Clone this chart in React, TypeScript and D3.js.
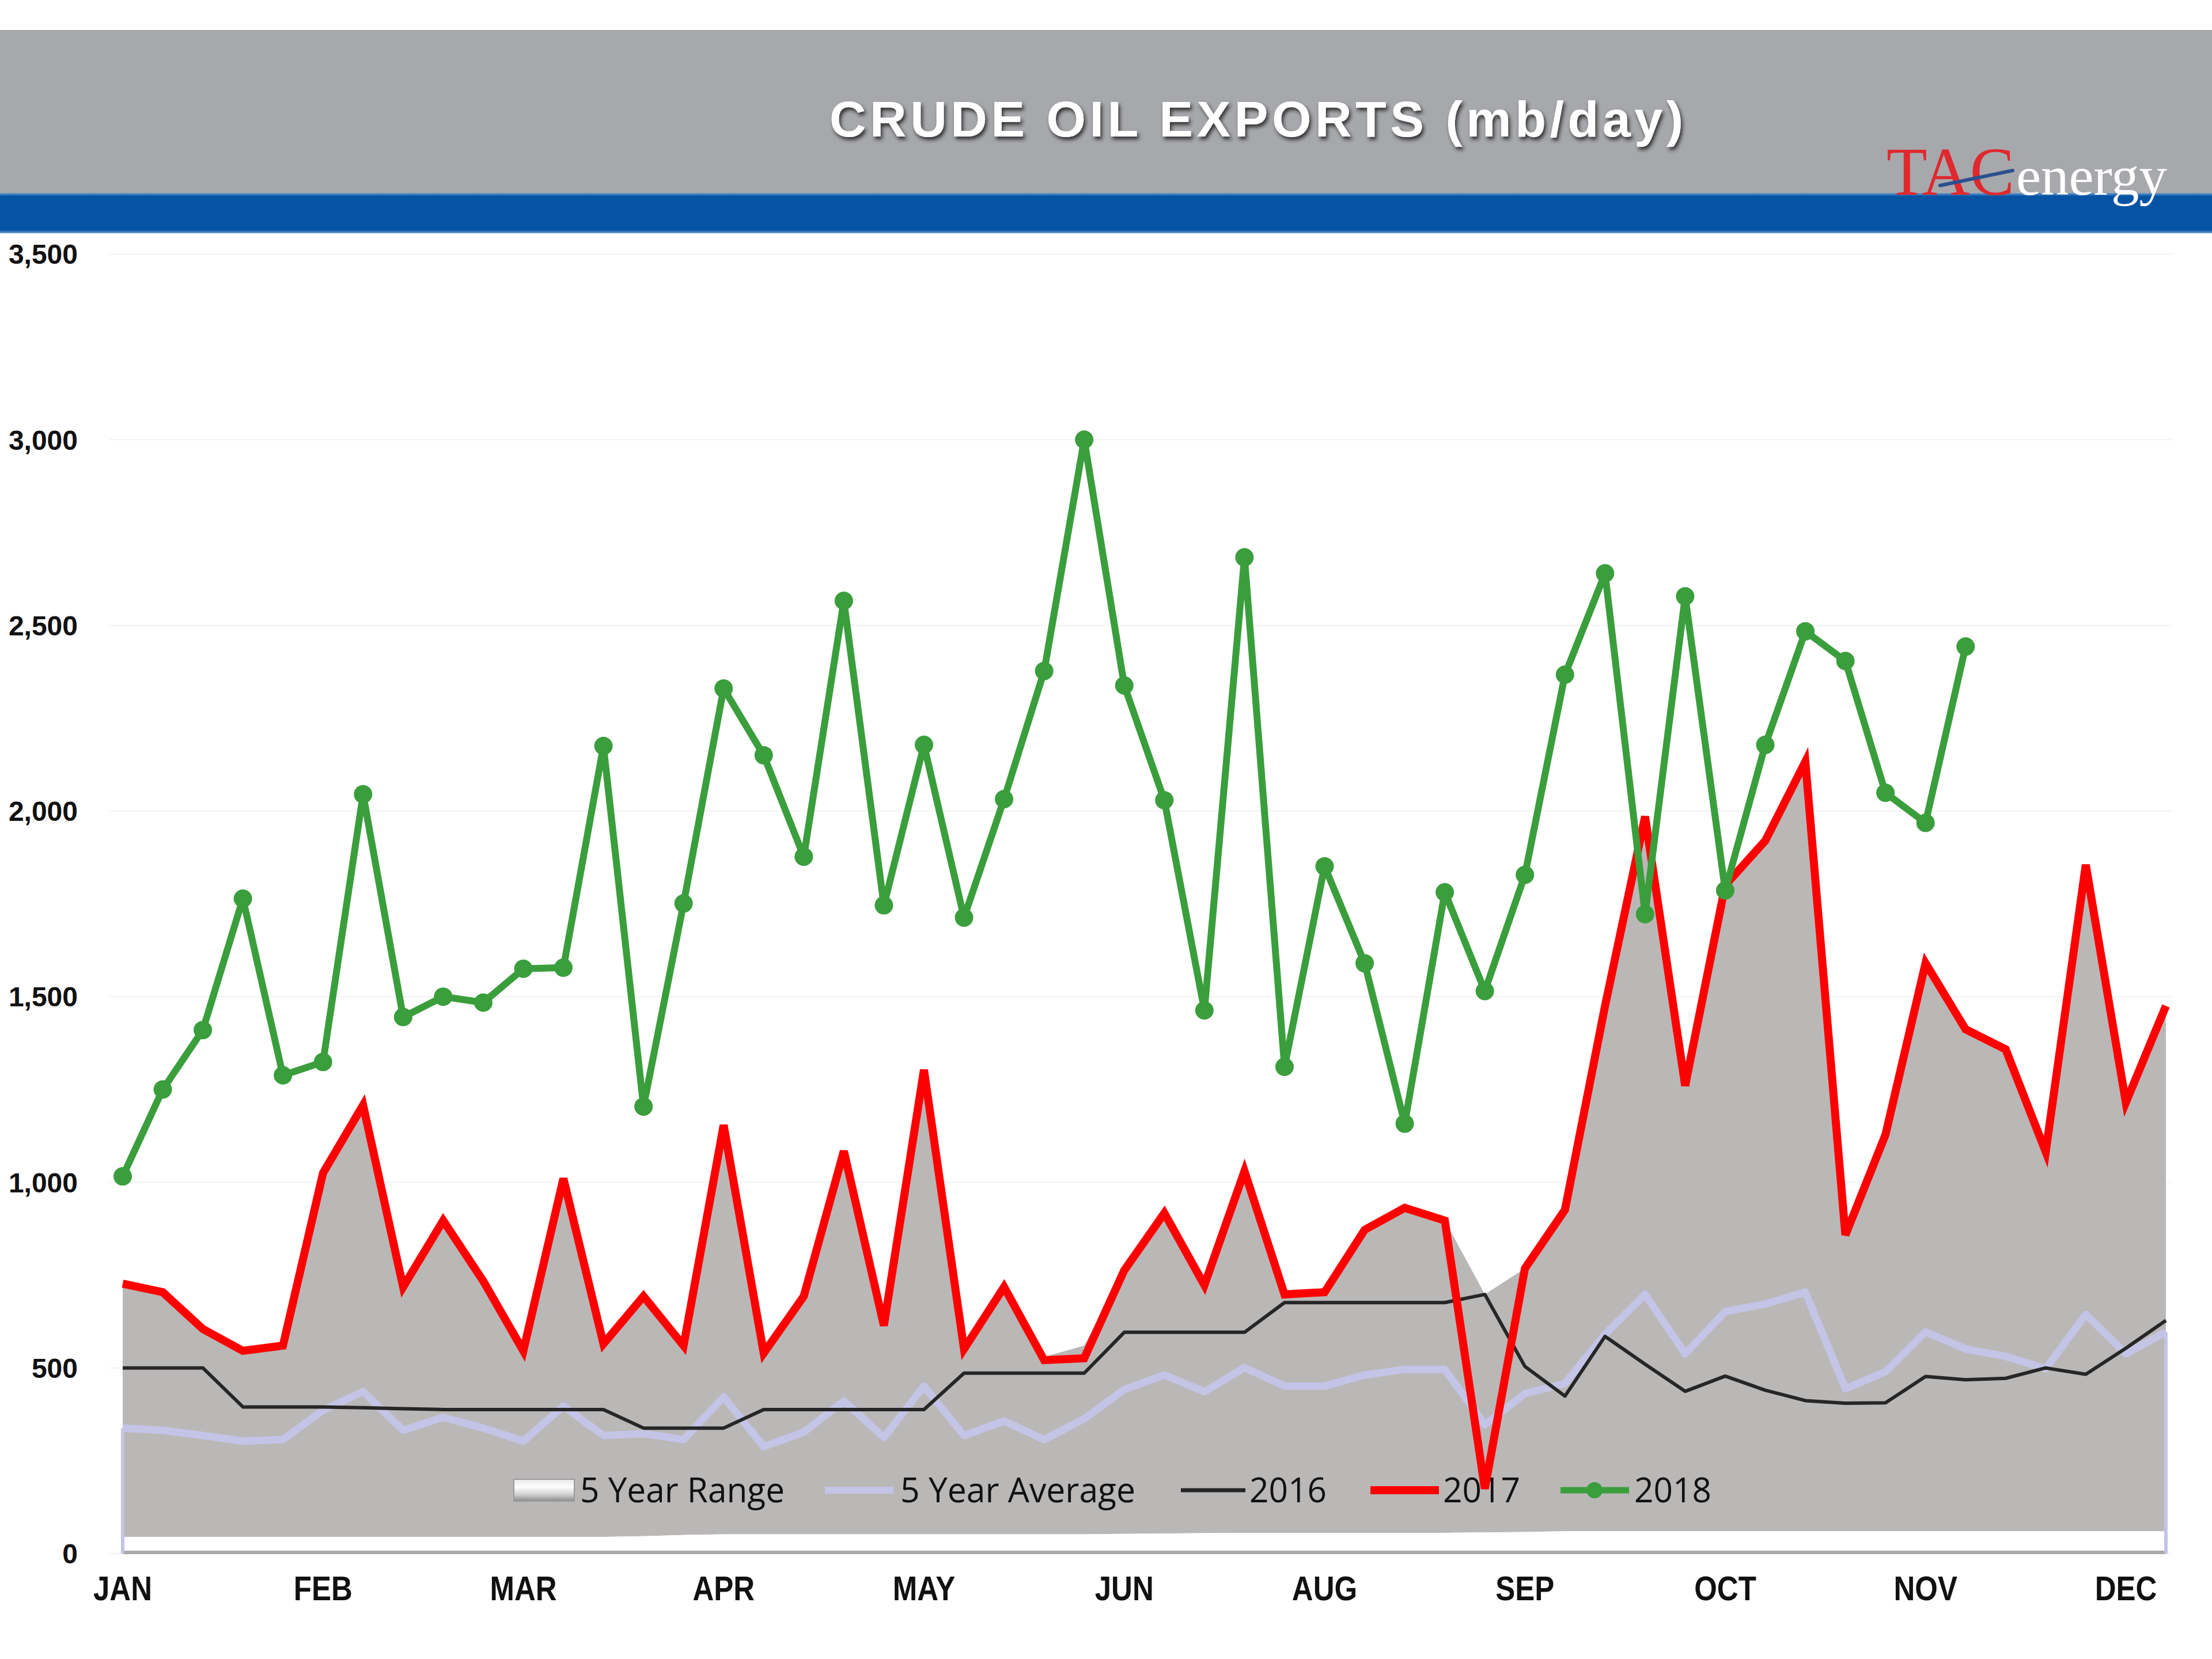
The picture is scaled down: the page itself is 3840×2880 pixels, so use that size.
import React from "react";
import * as d3 from "d3";

const monthLabels = ["JAN", "FEB", "MAR", "APR", "MAY", "JUN", "AUG", "SEP", "OCT", "NOV", "DEC"];
const yTicks = [0, 500, 1000, 1500, 2000, 2500, 3000, 3500];

const s2016 = [500, 500, 500, 395, 395, 395, 393, 390, 388, 388, 388, 388, 388, 338, 338, 338, 388, 388, 388, 388, 388, 486, 486, 486, 486, 596, 596, 596, 596, 676, 676, 676, 676, 676, 698, 504, 424, 585, 510, 437, 478, 440, 412, 405, 406, 477, 468, 472, 500, 483, 553, 628];

const s2017 = [727, 704, 605, 546, 560, 1025, 1208, 718, 897, 734, 546, 1010, 565, 693, 560, 1154, 540, 693, 1084, 614, 1303, 551, 718, 521, 526, 763, 917, 723, 1030, 698, 704, 872, 931, 897, 175, 768, 926, 1475, 1985, 1260, 1800, 1920, 2133, 858, 1128, 1590, 1412, 1358, 1082, 1855, 1215, 1475];

const s2018 = [1016, 1250, 1410, 1764, 1288, 1324, 2045, 1445, 1500, 1484, 1575, 1578, 2175, 1204, 1751, 2330, 2150, 1877, 2566, 1746, 2178, 1713, 2032, 2377, 3000, 2338, 2029, 1463, 2683, 1311, 1851, 1590, 1158, 1781, 1515, 1828, 2367, 2640, 1722, 2578, 1786, 2178, 2484, 2404, 2049, 1968, 2443];

const avg5 = [338, 332, 318, 303, 307, 386, 436, 332, 367, 338, 303, 397, 318, 323, 307, 422, 288, 327, 411, 313, 451, 318, 357, 307, 363, 442, 481, 436, 501, 451, 451, 481, 496, 496, 347, 431, 458, 591, 698, 538, 652, 672, 704, 444, 490, 597, 551, 531, 498, 644, 538, 597];

const rangeHigh = [727, 704, 605, 546, 560, 1025, 1208, 718, 897, 734, 546, 1010, 565, 693, 560, 1154, 540, 693, 1084, 614, 1303, 551, 718, 530, 560, 763, 917, 723, 1030, 698, 704, 872, 931, 897, 698, 768, 926, 1475, 1985, 1260, 1800, 1920, 2133, 858, 1128, 1590, 1412, 1358, 1082, 1855, 1215, 1475];

const rangeLow = [45, 45, 45, 45, 45, 45, 45, 45, 45, 45, 45, 45, 45, 47, 50, 52, 52, 52, 52, 52, 52, 52, 52, 52, 52, 53, 54, 55, 56, 56, 56, 56, 56, 56, 57, 58, 60, 60, 60, 60, 60, 60, 60, 60, 60, 60, 60, 60, 60, 60, 60, 60];

const legendItems = ["5 Year Range", "5 Year Average", "2016", "2017", "2018"];

export default function App() {
  const W = 3840, H = 2880;
  const x = d3.scaleLinear().domain([0, 51]).range([213, 3760]);
  const y = d3.scaleLinear().domain([0, 3500]).range([2697, 441]);
  const idx = (arr: number[]) => arr.map((v, i) => [i, v] as [number, number]);
  const line = d3.line<[number, number]>().x((d) => x(d[0])).y((d) => y(d[1]));
  const rangeArea = d3
    .area<number>()
    .x((_, i) => x(i))
    .y0((_, i) => y(rangeLow[i]))
    .y1((_, i) => y(rangeHigh[i]));
  const lowArea = d3
    .area<number>()
    .x((_, i) => x(i))
    .y0(() => y(0))
    .y1((_, i) => y(rangeLow[i]));
  const fmt = d3.format(",");
  const red = "#FF0000";
  const green = "#3A9E3C";
  const lav = "#C3C4E6";
  const blk = "#262626";
  const greyFill = "#BAB7B7";

  const legY = 2587;
  const legTextY = 2608;

  return (
    <svg width={W} height={H} style={{ position: "absolute", left: 0, top: 0, background: "#fff" }}>
      <defs>
        <filter id="tshadow" x="-10%" y="-30%" width="120%" height="170%">
          <feDropShadow dx="3" dy="5" stdDeviation="3" floodColor="#1a1a1a" floodOpacity="0.85" />
        </filter>
        <linearGradient id="rangeSym" x1="0" y1="0" x2="0" y2="1">
          <stop offset="0" stopColor="#e8e8e8" />
          <stop offset="0.35" stopColor="#ffffff" />
          <stop offset="0.7" stopColor="#d0d0d0" />
          <stop offset="1" stopColor="#8a8a8a" />
        </linearGradient>
        <linearGradient id="blueBand" x1="0" y1="0" x2="0" y2="1">
          <stop offset="0" stopColor="#6f9ed0" />
          <stop offset="0.08" stopColor="#0553A3" />
          <stop offset="0.92" stopColor="#0553A3" />
          <stop offset="1" stopColor="#7aa6d4" />
        </linearGradient>
      </defs>
      <rect x={0} y={0} width={W} height={H} fill="#fff" />

      {/* header */}
      <rect x={0} y={52} width={W} height={283} fill="#A7A8AB" />
      <rect x={0} y={335} width={W} height={70} fill="url(#blueBand)" />
      <text
        x={1440}
        y={237}
        textLength={1482}
        lengthAdjust="spacing"
        fontFamily="Liberation Sans, Arial, sans-serif"
        fontWeight="bold"
        fontSize={88}
        fill="#ffffff"
        filter="url(#tshadow)"
      >
        CRUDE OIL EXPORTS (mb/day)
      </text>
      {/* logo */}
      <text
        x={3275}
        y={338}
        textLength={222}
        lengthAdjust="spacingAndGlyphs"
        fontFamily="Liberation Serif, Times New Roman, serif"
        fontSize={118}
        fill="#E0282E"
      >
        TAC
      </text>
      <line x1={3368} y1={322} x2={3494} y2={296} stroke="#2C4F8E" strokeWidth={6} strokeLinecap="round" />
      <text
        x={3500}
        y={338}
        textLength={262}
        lengthAdjust="spacingAndGlyphs"
        fontFamily="Liberation Serif, Times New Roman, serif"
        fontSize={96}
        fill="#ffffff"
      >
        energy
      </text>

      {/* gridlines */}
      {yTicks.map((t) => (
        <line key={"g" + t} x1={190} x2={3770} y1={y(t)} y2={y(t)} stroke="#F3F3F3" strokeWidth={2} />
      ))}

      {/* 5 year range */}
      <path d={rangeArea(s2017) || ""} fill={greyFill} />
      <path d={lowArea(s2017) || ""} fill="#ffffff" />
      <line x1={x(0)} x2={x(51)} y1={y(0) - 2} y2={y(0) - 2} stroke="#A9A9A9" strokeWidth={6} />

      {/* y axis labels */}
      {yTicks.map((t) => (
        <text
          key={"y" + t}
          x={135}
          y={y(t)}
          dy="0.36em"
          textAnchor="end"
          fontFamily="Liberation Sans, Arial, sans-serif"
          fontWeight="bold"
          fontSize={48}
          fill="#111"
        >
          {fmt(t)}
        </text>
      ))}

      {/* x axis labels */}
      {monthLabels.map((m, k) => (
        <text
          key={m}
          transform={`translate(${x(k * 5)},2778) scale(0.85,1)`}
          textAnchor="middle"
          fontFamily="Liberation Sans, Arial, sans-serif"
          fontWeight="bold"
          fontSize={60}
          fill="#111"
        >
          {m}
        </text>
      ))}

      {/* legend */}
      <rect x={892} y={2568} width={105} height={38} fill="url(#rangeSym)" stroke="#9a9a9a" strokeWidth={2} />
      <line x1={1432} x2={1551} y1={legY} y2={legY} stroke={lav} strokeWidth={12} />
      <line x1={2050} x2={2162} y1={legY} y2={legY} stroke={blk} strokeWidth={7} />
      <line x1={2379} x2={2498} y1={legY} y2={legY} stroke={red} strokeWidth={14} />
      <line x1={2709} x2={2828} y1={legY} y2={legY} stroke={green} strokeWidth={11} />
      <circle cx={2768} cy={legY} r={14} fill={green} />
      {legendItems.map((t, k) => {
        const xs = [1007, 1563, 2169, 2505, 2837];
        const ws = [355, 408, 134, 134, 134];
        return (
          <text
            key={t}
            x={xs[k]}
            y={legTextY}
            textLength={ws[k]}
            lengthAdjust="spacingAndGlyphs"
            fontFamily="Open Sans, Noto Sans, sans-serif"
            fontSize={60}
            fill="#111"
          >
            {t}
          </text>
        );
      })}

      {/* 5 year average */}
      <line x1={x(0)} x2={x(0)} y1={y(avg5[0])} y2={y(0)} stroke={lav} strokeWidth={6} />
      <line x1={x(51)} x2={x(51)} y1={y(avg5[51])} y2={y(0)} stroke={lav} strokeWidth={6} />
      <path d={line(idx(avg5)) || ""} fill="none" stroke={lav} strokeWidth={13} strokeLinejoin="round" />

      {/* 2016 */}
      <path d={line(idx(s2016)) || ""} fill="none" stroke={blk} strokeWidth={6} strokeLinejoin="round" />

      {/* 2017 */}
      <path d={line(idx(s2017)) || ""} fill="none" stroke={red} strokeWidth={14} strokeLinejoin="miter" />

      {/* 2018 */}
      <path d={line(idx(s2018)) || ""} fill="none" stroke={green} strokeWidth={12} strokeLinejoin="round" />
      {s2018.map((v, i) => (
        <circle key={"p" + i} cx={x(i)} cy={y(v)} r={16} fill={green} />
      ))}
    </svg>
  );
}
